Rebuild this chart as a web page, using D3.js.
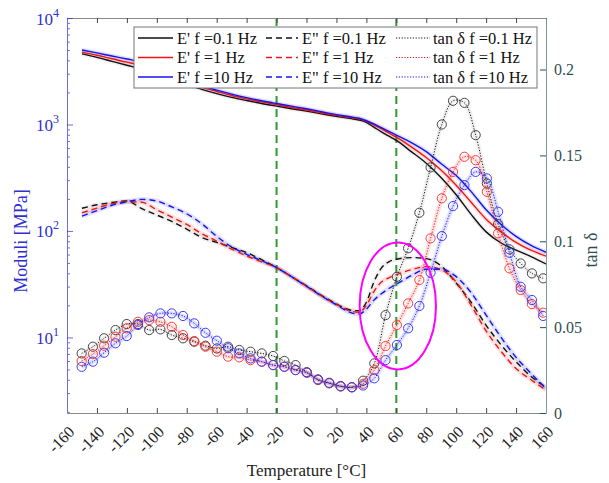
<!DOCTYPE html>
<html>
<head>
<meta charset="utf-8">
<script src="https://cdn.jsdelivr.net/npm/d3@7"></script>
<style>
  html, body { margin: 0; padding: 0; background: #fff; }
  svg { display: block; font-family: "Liberation Serif", "Times New Roman", serif; }
  svg text { font-family: "Liberation Serif", "Times New Roman", serif; }
</style>
</head>
<body>
<svg id="chart" width="609" height="483"></svg>
<script>
// ---- Data: DMA temperature sweep ----
// Temperatures [°C] for the storage / loss modulus curves
const temps = [-150,-140,-130,-120,-110,-100,-90,-80,-70,-60,-50,-40,-30,-20,-10,0,10,20,30,35,40,45,50,55,60,70,80,90,100,110,120,130,140,150,160];

// Storage modulus E' [MPa]
const ePrime01 = [4603,4266,3917,3597,3311,2951,2630,2371,2138,1950,1799,1679,1574,1486,1406,1334,1259,1191,1135,1102,1047,944,851,776,708,556,432,316,219,143,98,77,66,57.5,49];
const ePrime1  = [4786,4467,4140,3846,3548,3162,2818,2512,2239,2042,1871,1738,1629,1535,1445,1368,1288,1216,1159,1127,1072,989,912,832,759,617,490,372,269,186,129,98,78,66,58];
const ePrime10 = [5012,4699,4395,4121,3846,3428,3020,2661,2317,2099,1928,1786,1671,1574,1486,1403,1318,1236,1175,1143,1084,1012,933,861,794,676,556,427,331,234,158,115,89,73,63];

// Loss modulus E'' [MPa]
const eDouble01 = [163,176,185,191,162,141,123,104,87,78,70,62.7,53.7,45.3,37.2,30.5,24.8,20.6,18.0,17.8,21.4,33.1,44.7,51.3,54.2,56.2,55.0,46.8,32.4,21.4,13.0,8.5,5.9,4.3,3.4];
const eDouble1  = [148,164,180,188,186,158,135,115,94.4,80.4,67.6,58.2,51.3,45.3,37.2,30.2,24.5,20.4,17.6,17.2,20.0,26.9,33.1,36.3,38.9,43.2,46.2,43.2,33.1,20.0,11.5,7.4,5.1,4.0,3.2];
const eDouble10 = [138,155,174,188,198,191,168,145,117,89,70.8,60.3,52.5,45.3,37.2,30.2,24.5,20.2,17.0,16.6,18.4,22.4,25.7,28.8,31.6,38.0,43.7,43.7,37.2,26.3,16.2,10.0,6.5,4.6,3.3];

// Loss factor tan δ, sampled at the marker temperatures
const tanTemps = [-150.2,-142.7,-135.2,-127.6,-120.1,-112.6,-105.1,-97.6,-90.0,-82.5,-75.0,-67.5,-59.9,-52.4,-44.9,-37.4,-29.9,-22.3,-14.8,-7.3,0.2,7.7,15.2,22.8,30.3,37.8,45.3,52.8,60.4,67.9,75.4,82.9,90.4,97.9,105.5,113.0,120.5,128.0,135.6,143.1,150.6,158.1];
const tanDelta01 = [0.0347,0.0386,0.0435,0.0483,0.0518,0.0518,0.0483,0.0487,0.0454,0.0435,0.0415,0.0392,0.0376,0.0386,0.0367,0.0357,0.0347,0.0332,0.0303,0.0279,0.0238,0.0192,0.0173,0.0155,0.0150,0.0188,0.0289,0.0570,0.0793,0.0959,0.1166,0.1430,0.1680,0.1818,0.1806,0.1618,0.1337,0.1100,0.0953,0.0871,0.0813,0.0784];
const tanDelta1  = [0.0303,0.0343,0.0392,0.0444,0.0493,0.0531,0.0541,0.0531,0.0502,0.0454,0.0419,0.0386,0.0357,0.0328,0.0324,0.0308,0.0299,0.0279,0.0270,0.0250,0.0235,0.0194,0.0174,0.0155,0.0150,0.0170,0.0250,0.0390,0.0512,0.0638,0.0774,0.1017,0.1250,0.1404,0.1492,0.1472,0.1288,0.1046,0.0842,0.0716,0.0634,0.0584];
const tanDelta10 = [0.0269,0.0299,0.0351,0.0406,0.0448,0.0512,0.0557,0.0580,0.0580,0.0565,0.0522,0.0467,0.0421,0.0377,0.0347,0.0318,0.0299,0.0279,0.0269,0.0250,0.0235,0.0196,0.0176,0.0157,0.0150,0.0160,0.0202,0.0308,0.0396,0.0493,0.0623,0.0817,0.1030,0.1205,0.1327,0.1404,0.1366,0.1172,0.0933,0.0735,0.0658,0.0565];

// Axis ticks
const xTicks = [-160,-140,-120,-100,-80,-60,-40,-20,0,20,40,60,80,100,120,140,160];
const yLeftMajor = [10,100,1000,10000];
const yLeftMinor = [2,3,4,5,6,7,8,9,20,30,40,50,60,70,80,90,200,300,400,500,600,700,800,900,2000,3000,4000,5000,6000,7000,8000,9000];
const yRightTicks = [0,0.05,0.1,0.15,0.2];

// Reference temperatures (vertical guides) and highlighted transition region
const guideTemps = [-20, 60];
const highlight = { t0: 35.5, t1: 86.5, e0: 5, e1: 78 };

const freqLabels = ["0.1", "1", "10"];
const seriesColors = ["#111111", "#f01414", "#1414f0"];

// ---- Layout ----
const FONT = "Liberation Serif";
const box = { l: 67, r: 546, t: 18, b: 413 };
const svg = d3.select("#chart");

const x = d3.scaleLinear().domain([-160, 160]).range([box.l, box.r]);
const yL = d3.scaleLog().domain([1.95, 10000]).range([box.b, box.t]);
const yR = d3.scaleLinear().domain([0, 0.23]).range([box.b, box.t]);

svg.append("defs").append("clipPath").attr("id", "plotArea")
  .append("rect").attr("x", box.l).attr("y", box.t)
  .attr("width", box.r - box.l).attr("height", box.b - box.t);

const plot = svg.append("g").attr("clip-path", "url(#plotArea)");

// Vertical guides
plot.selectAll("line.guide").data(guideTemps).join("line")
  .attr("class", "guide")
  .attr("x1", d => x(d)).attr("x2", d => x(d))
  .attr("y1", box.t).attr("y2", box.b)
  .attr("stroke", "#2f9a2f").attr("stroke-width", 2)
  .attr("stroke-dasharray", "8,5");

const modLine = vals => d3.line()
  .x((d, i) => x(temps[i])).y(d => yL(d))
  .curve(d3.curveMonotoneX)(vals);
const tanLine = vals => d3.line()
  .x((d, i) => x(tanTemps[i])).y(d => yR(d))
  .curve(d3.curveCatmullRom.alpha(0.5))(vals);

const storage = [ePrime01, ePrime1, ePrime10];
const loss = [eDouble01, eDouble1, eDouble10];
const damping = [tanDelta01, tanDelta1, tanDelta10];

// Scatter bands (soft halo behind each curve)
[0, 1, 2].forEach(i => {
  const c = i === 0 ? "#888" : seriesColors[i];
  [modLine(storage[i]), modLine(loss[i]), tanLine(damping[i])].forEach(p => {
    plot.append("path").attr("d", p).attr("fill", "none")
      .attr("stroke", c).attr("stroke-opacity", 0.13).attr("stroke-width", 4.5);
  });
});

// Storage modulus (solid)
storage.forEach((vals, i) => {
  plot.append("path").attr("d", modLine(vals)).attr("fill", "none")
    .attr("stroke", seriesColors[i]).attr("stroke-width", 1.4);
});
// Loss modulus (dashed)
loss.forEach((vals, i) => {
  plot.append("path").attr("d", modLine(vals)).attr("fill", "none")
    .attr("stroke", seriesColors[i]).attr("stroke-width", 1.4)
    .attr("stroke-dasharray", "6,4");
});
// tan δ (dotted with circle markers)
const markerColors = ["#444", "#ff3a3a", "#3a3aff"];
damping.forEach((vals, i) => {
  plot.append("path").attr("d", tanLine(vals)).attr("fill", "none")
    .attr("stroke", seriesColors[i]).attr("stroke-width", 1)
    .attr("stroke-dasharray", "1.2,1.6");
  plot.append("g").selectAll("circle").data(vals).join("circle")
    .attr("cx", (d, k) => x(tanTemps[k])).attr("cy", d => yR(d))
    .attr("r", 4.6).attr("fill", "none")
    .attr("stroke", markerColors[i]).attr("stroke-width", 1);
});

// Highlighted transition region
plot.append("ellipse")
  .attr("cx", (x(highlight.t0) + x(highlight.t1)) / 2)
  .attr("cy", (yL(highlight.e0) + yL(highlight.e1)) / 2)
  .attr("rx", (x(highlight.t1) - x(highlight.t0)) / 2)
  .attr("ry", (yL(highlight.e0) - yL(highlight.e1)) / 2)
  .attr("fill", "none").attr("stroke", "#ff00ff").attr("stroke-width", 2);

// ---- Axes ----
const axisGray = "#8a8a8a";
const leftBlue = "#2f2fd0";
const rightSlate = "#2f4f4f";

// Bottom
const gx = svg.append("g").attr("transform", `translate(0,${box.b})`)
  .call(d3.axisBottom(x).tickValues(xTicks).tickSizeInner(-5).tickSizeOuter(0)
    .tickFormat(d => String(d)));
gx.attr("font-family", FONT);
gx.select(".domain").attr("stroke", axisGray);
gx.selectAll(".tick line").attr("stroke", "#444");
gx.selectAll(".tick text")
  .attr("fill", "#222").attr("font-size", 16)
  .attr("font-family", FONT)
  .attr("text-anchor", "end")
  .attr("x", 0).attr("y", 0).attr("dy", "0.35em")
  .attr("transform", "translate(4,16) rotate(-45)");

// Top
const gt = svg.append("g").attr("transform", `translate(0,${box.t})`)
  .call(d3.axisTop(x).tickValues(xTicks).tickSizeInner(-5).tickSizeOuter(0).tickFormat(""));
gt.select(".domain").attr("stroke", axisGray);
gt.selectAll(".tick line").attr("stroke", "#444");

// Left (log, moduli)
const glMinor = svg.append("g").attr("transform", `translate(${box.l},0)`)
  .call(d3.axisLeft(yL).tickValues(yLeftMinor).tickSizeInner(-3).tickSizeOuter(0).tickFormat(""));
glMinor.select(".domain").remove();
glMinor.selectAll(".tick line").attr("stroke", leftBlue).attr("stroke-opacity", 0.7);

const gl = svg.append("g").attr("transform", `translate(${box.l},0)`)
  .call(d3.axisLeft(yL).tickValues(yLeftMajor).tickSizeInner(-6).tickSizeOuter(0).tickFormat(""));
gl.select(".domain").attr("stroke", "#6f6fe0");
gl.selectAll(".tick line").attr("stroke", leftBlue).attr("stroke-opacity", 0.7);
gl.selectAll(".tick").each(function (d) {
  const t = d3.select(this).append("text")
    .attr("x", -31).attr("y", 6)
    .attr("fill", leftBlue).attr("font-size", 17)
    .attr("font-family", FONT)
    .attr("text-anchor", "start");
  t.append("tspan").text("10");
  t.append("tspan").attr("dy", -8).attr("font-size", 12).text(String(Math.round(Math.log10(d))));
});

// Right (tan δ)
const gr = svg.append("g").attr("transform", `translate(${box.r},0)`)
  .call(d3.axisRight(yR).tickValues(yRightTicks).tickSizeInner(-6).tickSizeOuter(0).tickPadding(8)
    .tickFormat(d => String(d)));
gr.attr("font-family", FONT);
gr.select(".domain").attr("stroke", "#7d9898");
gr.selectAll(".tick line").attr("stroke", rightSlate);
gr.selectAll(".tick text").attr("fill", rightSlate).attr("font-size", 16)
  .attr("font-family", FONT);

// Axis titles
svg.append("text")
  .attr("x", (box.l + box.r) / 2).attr("y", 476)
  .attr("text-anchor", "middle").attr("font-size", 17).attr("fill", "#222")
  .attr("font-family", FONT)
  .text("Temperature [°C]");
svg.append("text")
  .attr("transform", `translate(27,241) rotate(-90)`)
  .attr("text-anchor", "middle").attr("font-size", 18).attr("fill", leftBlue)
  .attr("font-family", FONT)
  .text("Moduli [MPa]");
svg.append("text")
  .attr("transform", `translate(597,250) rotate(-90)`)
  .attr("text-anchor", "middle").attr("font-size", 18).attr("fill", rightSlate)
  .attr("font-family", FONT)
  .text("tan δ");

// ---- Legend ----
const legend = svg.append("g");
legend.append("rect")
  .attr("x", 134).attr("y", 27).attr("width", 403).attr("height", 61)
  .attr("fill", "#fff").attr("stroke", "#777").attr("stroke-width", 1);

const legendCols = [
  { x0: 138, x1: 173, tx: 177, name: "E' f =", dash: null },
  { x0: 266, x1: 298, tx: 302, name: "E\" f =", dash: "6,4" },
  { x0: 396, x1: 430, tx: 433, name: "tan δ f =", dash: "1.2,1.6" }
];
const rowY = [38, 57.5, 77];
legendCols.forEach((col, c) => {
  freqLabels.forEach((f, r) => {
    legend.append("line")
      .attr("x1", col.x0).attr("x2", col.x1).attr("y1", rowY[r]).attr("y2", rowY[r])
      .attr("stroke", seriesColors[r]).attr("stroke-width", c === 2 ? 1 : 1.4)
      .attr("stroke-dasharray", col.dash);
    legend.append("text")
      .attr("x", col.tx).attr("y", rowY[r]).attr("dy", "0.35em")
      .attr("font-size", 16.5).attr("fill", "#111")
      .attr("font-family", FONT)
      .text(col.name + f + " Hz");
  });
});
</script>
</body>
</html>
